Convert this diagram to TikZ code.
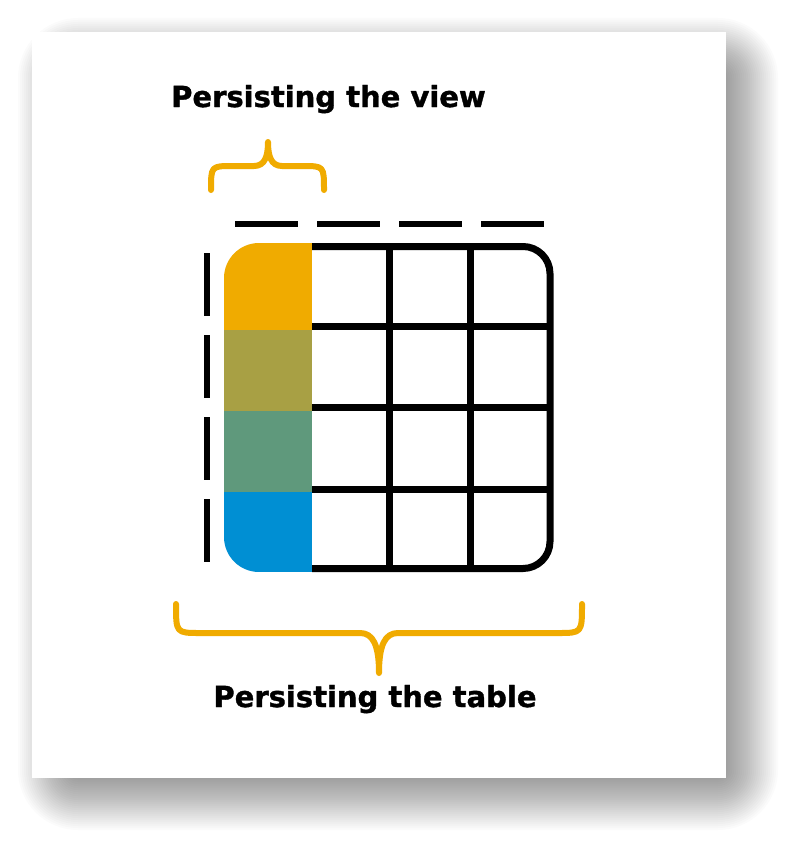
\documentclass[tikz,border=0pt]{standalone}
\usepackage{fontspec}
\setmainfont{DejaVu Sans}[BoldFeatures={FakeBold=1.2}]
\usetikzlibrary{positioning}
\definecolor{sapOrange}{HTML}{F0AB00}
\definecolor{sapOlive}{HTML}{A8A044}
\definecolor{sapGreen}{HTML}{5F997C}
\definecolor{sapBlue}{HTML}{008FD3}

\begin{document}
\begin{tikzpicture}[
    x=1pt, y=-1pt,
    cardshadow/.style={fill=black, opacity=0.017},
    gridline/.style={draw=black, line width=7pt},
    dashline/.style={draw=black, line width=6.5pt, dash pattern=on 63pt off 19pt},
    brace/.style={draw=sapOrange, line width=6pt, line cap=round, line join=round},
    caption/.style={font=\fontsize{29}{34}\selectfont\bfseries, inner sep=0pt, anchor=base}
]
    \useasboundingbox[fill=white] (0,0) rectangle (791,843);

    % soft shadow behind the card
    \foreach \r [evaluate=\r as \rc using {max(\r+26,1)}] in {34,32,...,-26} {
        \fill[cardshadow, rounded corners=\rc pt] (52-\r,52-\r) rectangle (744+\r,796+\r);
    }
    \fill[white] (32,32) rectangle (726,778);

    % coloured first column
    \begin{scope}
        \clip (312,243) -- (259,243) .. controls (239.7,243) and (224,258.7) .. (224,278)
            -- (224,537) .. controls (224,556.3) and (239.7,572) .. (259,572)
            -- (312,572) -- cycle;
        \fill[sapOrange] (224,243) rectangle (312,330);
        \fill[sapOlive]  (224,330) rectangle (312,411);
        \fill[sapGreen]  (224,411) rectangle (312,492);
        \fill[sapBlue]   (224,492) rectangle (312,572);
    \end{scope}

    % table grid
    \draw[gridline, rounded corners=27pt] (312,246.5) -- (550,246.5) -- (550,568.5) -- (312,568.5);
    \foreach \y in {326.5,407.5,489} {
        \draw[gridline] (312,\y) -- (550,\y);
    }
    \foreach \x in {389.5,470.5} {
        \draw[gridline] (\x,246) -- (\x,569);
    }

    % dashed outline of the view
    \draw[dashline] (235,224) -- (544,224);
    \draw[dashline] (207,253) -- (207,562);

    % braces
    \draw[brace] (211,190) .. controls (211,166) .. (233,166) -- (254,166)
        .. controls (265,166) and (268,156) .. (268,142)
        .. controls (268,156) and (271,166) .. (282,166) -- (302,166)
        .. controls (324,166) .. (324,190);
    \draw[brace] (176,604) .. controls (176,633) .. (200,633) -- (360,633)
        .. controls (373,633) and (379,645) .. (379,673)
        .. controls (379,645) and (385,633) .. (398,633) -- (558,633)
        .. controls (582,633) .. (582,604);

    \node[caption] (viewlabel) at (328.5,107) {Persisting the view};
    \node[caption] (tablelabel) at (375,707) {Persisting the table};
\end{tikzpicture}
\end{document}
